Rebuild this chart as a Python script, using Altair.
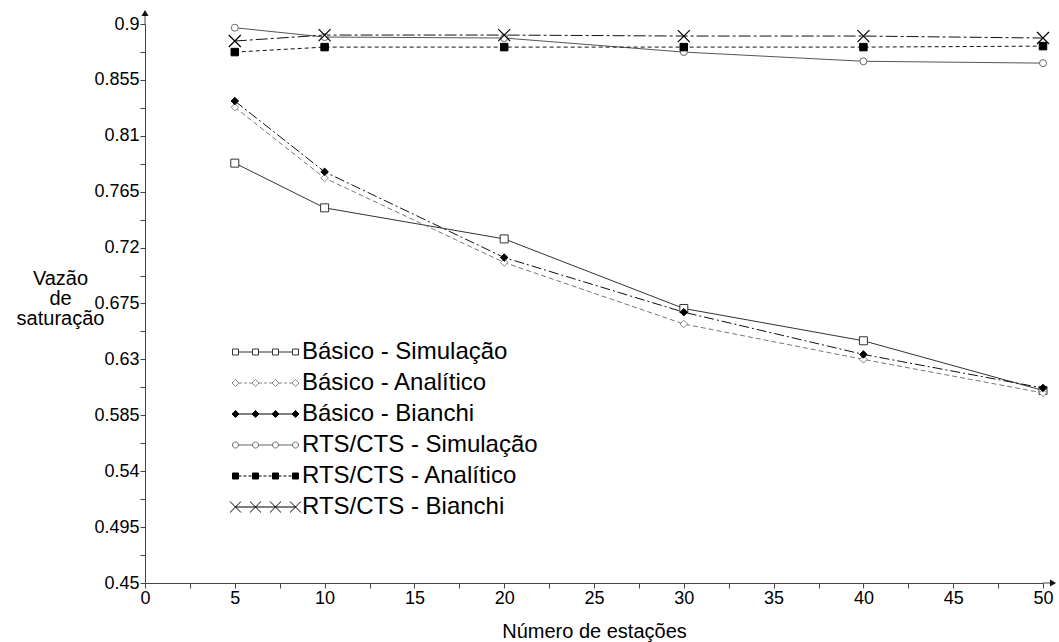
import altair as alt
import pandas as pd
import math

# ---------------- data ----------------
stations = [5, 10, 20, 30, 40, 50]
series_names = [
    "Básico - Simulação",
    "Básico - Analítico",
    "Básico - Bianchi",
    "RTS/CTS - Simulação",
    "RTS/CTS - Analítico",
    "RTS/CTS - Bianchi",
]
basico_sim = [0.788, 0.752, 0.727, 0.671, 0.645, 0.605]
basico_anal = [0.833, 0.776, 0.708, 0.6585, 0.630, 0.603]
basico_bianchi = [0.838, 0.781, 0.712, 0.668, 0.634, 0.607]
rts_sim = [0.897, 0.8895, 0.8887, 0.8774, 0.870, 0.8685]
rts_anal = [0.8774, 0.8814, 0.8814, 0.8814, 0.8814, 0.8822]
rts_bianchi = [0.8863, 0.8911, 0.8911, 0.8903, 0.8903, 0.8887]

x_tick_values = [0, 2.5, 5, 7.5, 10, 12.5, 15, 17.5, 20, 22.5, 25, 27.5, 30,
                 32.5, 35, 37.5, 40, 42.5, 45, 47.5, 50]
y_tick_values = [0.45, 0.4725, 0.495, 0.5175, 0.54, 0.5625, 0.585, 0.6075,
                 0.63, 0.6525, 0.675, 0.6975, 0.72, 0.7425, 0.765, 0.7875,
                 0.81, 0.8325, 0.855, 0.8775, 0.9]

all_values = [basico_sim, basico_anal, basico_bianchi, rts_sim, rts_anal, rts_bianchi]
rows = []
for name, vals in zip(series_names, all_values):
    for n, v in zip(stations, vals):
        rows.append({"n": n, "v": v, "series": name})
df = pd.DataFrame(rows)

# ---------------- styles ----------------
FONT = "Liberation Sans"
X_PATH = "M-1,-1L1,1M1,-1L-1,1"
styles = {
    "Básico - Simulação": dict(color="#333333", dash=None, shape="square", size=64,
                               fill="white", mcolor="#333333"),
    "Básico - Analítico": dict(color="#777777", dash=[5, 3], shape="diamond", size=56,
                               fill="white", mcolor="#888888"),
    "Básico - Bianchi": dict(color="#111111", dash=[10, 3, 2, 3], shape="diamond", size=56,
                             fill="black", mcolor="#000000"),
    "RTS/CTS - Simulação": dict(color="#555555", dash=None, shape="circle", size=49,
                                fill="white", mcolor="#666666"),
    "RTS/CTS - Analítico": dict(color="#111111", dash=[4, 3], shape="square", size=56,
                                fill="black", mcolor="#000000"),
    "RTS/CTS - Bianchi": dict(color="#111111", dash=[12, 3, 3, 3], shape=X_PATH, size=144,
                              fill=None, mcolor="#000000"),
}

# ---------------- legend symbols (custom paths) ----------------
LEG_SIZE = 3600
U = math.sqrt(LEG_SIZE) / 2  # px per path unit
MX = [-30, -10, 10, 30]


def f(v):
    return f"{v / U:.4f}"


def marker_path(kind, x, h):
    if kind == "square":
        return (f"M{f(x - h)},{f(-h)}L{f(x + h)},{f(-h)}L{f(x + h)},{f(h)}"
                f"L{f(x - h)},{f(h)}Z")
    if kind == "diamond":
        return f"M{f(x)},{f(-h)}L{f(x + h)},0L{f(x)},{f(h)}L{f(x - h)},0Z"
    if kind == "circle":
        pts = []
        for k in range(16):
            a = 2 * math.pi * k / 16
            pts.append((x + h * math.cos(a), h * math.sin(a)))
        s = f"M{f(pts[0][0])},{f(pts[0][1])}"
        for px, py in pts[1:]:
            s += f"L{f(px)},{f(py)}"
        return s + "Z"
    return (f"M{f(x - h)},{f(-h)}L{f(x + h)},{f(h)}"
            f"M{f(x + h)},{f(-h)}L{f(x - h)},{f(h)}")


def seg_path(a, b, dash):
    if not dash:
        return f"M{f(a)},0L{f(b)},0"
    on, off = dash
    s = ""
    p = a
    while p < b:
        q = min(p + on, b)
        s += f"M{f(p)},0L{f(q)},0"
        p = q + off
    return s


legend_spec = {
    "Básico - Simulação": ("square", 3, None),
    "Básico - Analítico": ("diamond", 3.5, (3, 2)),
    "Básico - Bianchi": ("diamond", 3.5, None),
    "RTS/CTS - Simulação": ("circle", 3, None),
    "RTS/CTS - Analítico": ("square", 3, (3, 2)),
    "RTS/CTS - Bianchi": ("cross", 5.5, None),
}

legend_paths, legend_fills, legend_strokes = [], [], []
for name in series_names:
    kind, h, dash = legend_spec[name]
    path = ""
    gap = 0 if kind == "cross" else h
    for i in range(3):
        path += seg_path(MX[i] + gap, MX[i + 1] - gap, dash)
    for x in MX:
        path += marker_path(kind, x, h)
    legend_paths.append(path)
    st = styles[name]
    legend_fills.append(st["fill"] if st["fill"] else "white")
    legend_strokes.append(st["mcolor"])

# ---------------- encodings ----------------
x_enc = alt.X(
    "n:Q",
    scale=alt.Scale(domain=[0, 50], nice=False, zero=False),
    axis=alt.Axis(
        values=x_tick_values,
        labelExpr="datum.value % 5 == 0 ? format(datum.value, 'd') : ''",
        title="Número de estações",
        grid=False,
        labelFlush=False,
        labelOverlap=False,
        tickSize=5,
        labelPadding=1,
        titlePadding=14,
    ),
)
y_enc = alt.Y(
    "v:Q",
    scale=alt.Scale(domain=[0.45, 0.9], nice=False, zero=False),
    axis=alt.Axis(
        values=y_tick_values,
        labelExpr="round(datum.value * 10000) % 450 == 0 ? format(datum.value, '.3~f') : ''",
        title=["Vazão", "de", "saturação"],
        grid=False,
        labelFlush=False,
        labelOverlap=False,
        tickSize=5,
        labelPadding=1,
        titleAngle=0,
        titleAlign="center",
        titleBaseline="top",
        titleX=-85,
        titleY=244,
        titleFontSize=20,
        titleLineHeight=20,
    ),
)

base = alt.Chart(df)
layers = []
for name in series_names:
    st = styles[name]
    kw = dict(color=st["color"], strokeWidth=1)
    if st["dash"]:
        kw["strokeDash"] = st["dash"]
    layers.append(
        base.transform_filter(alt.datum.series == name)
        .mark_line(**kw)
        .encode(x=x_enc, y=y_enc)
    )
for name in series_names:
    st = styles[name]
    if st["fill"]:
        kw = dict(shape=st["shape"], size=st["size"], filled=True, fill=st["fill"],
                  stroke=st["mcolor"], strokeWidth=1, opacity=1)
    else:
        kw = dict(shape=st["shape"], size=st["size"], filled=False,
                  stroke=st["mcolor"], strokeWidth=1.2, opacity=1)
    layers.append(
        base.transform_filter(alt.datum.series == name)
        .mark_point(**kw)
        .encode(x=x_enc, y=y_enc)
    )

# legend layer (no marks drawn; scale domains are explicit)
legend_layer = (
    base.transform_filter("false")
    .mark_point(size=LEG_SIZE, opacity=1, strokeWidth=1)
    .encode(
        shape=alt.Shape(
            "series:N",
            scale=alt.Scale(domain=series_names, range=legend_paths),
            legend=alt.Legend(
                title=None,
                orient="none",
                legendX=84,
                legendY=317,
                padding=0,
                labelFont=FONT,
                labelFontSize=24,
                labelColor="black",
                labelOffset=6,
                symbolOffset=6,
                clipHeight=22,
                rowPadding=7,
                symbolSize=LEG_SIZE,
                symbolStrokeWidth=1,
                labelLimit=400,
            ),
        ),
        fill=alt.Fill("series:N", scale=alt.Scale(domain=series_names, range=legend_fills)),
        stroke=alt.Stroke("series:N", scale=alt.Scale(domain=series_names, range=legend_strokes)),
    )
)

# axis arrows (decoration)
deco_df = pd.DataFrame({"k": [0]})
deco = alt.Chart(deco_df)
arrows = [
    deco.mark_rule(color="#444444", strokeWidth=1).encode(
        x=alt.value(0), y=alt.value(0), y2=alt.value(-12)),
    deco.mark_point(shape="triangle-up", filled=True, color="#111111", size=50, opacity=1).encode(
        x=alt.value(0), y=alt.value(-11)),
    deco.mark_rule(color="#444444", strokeWidth=1).encode(
        x=alt.value(898), x2=alt.value(906), y=alt.value(559)),
    deco.mark_point(shape="triangle-right", filled=True, color="#111111", size=50, opacity=1).encode(
        x=alt.value(908), y=alt.value(559)),
]

chart = (
    alt.layer(*layers, legend_layer, *arrows)
    .properties(
        width=898,
        height=559,
        autosize=alt.AutoSizeParams(type="none"),
        padding={"left": 145, "top": 24, "right": 16, "bottom": 59},
        background="white",
    )
    .configure_view(stroke=None)
    .configure_axis(
        labelFont=FONT,
        titleFont=FONT,
        labelFontSize=18,
        titleFontSize=20,
        titleFontWeight="normal",
        labelColor="black",
        titleColor="black",
        domainColor="#444444",
        tickColor="#444444",
    )
)

chart.save("out.html", embed_options={"renderer": "svg", "actions": False})
